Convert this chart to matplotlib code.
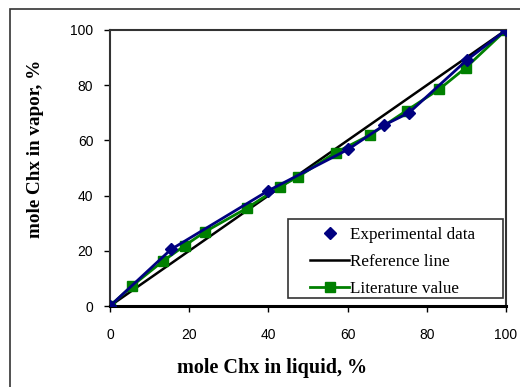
import matplotlib
matplotlib.use("Agg")
import matplotlib.pyplot as plt
from matplotlib.patches import Rectangle

# experimental data (blue diamonds)
exp_x = [0, 15.4, 40.0, 60.2, 69.3, 75.5, 90.1, 100]
exp_y = [0, 20.5, 41.8, 56.8, 65.6, 70.0, 89.1, 100]

# literature value (green squares)
lit_x = [0, 5.5, 13.5, 18.9, 24.0, 34.5, 42.9, 47.6, 57.0, 65.7, 74.9, 83.2, 89.9, 100]
lit_y = [0, 7.2, 16.4, 21.9, 26.9, 35.4, 43.2, 46.9, 55.6, 62.0, 70.8, 78.6, 86.4, 100]

# reference line
ref_x = [0, 100]
ref_y = [0, 100]

fig = plt.figure(figsize=(5.2, 3.87), dpi=100)
ax = fig.add_axes([110 / 520, 1 - 306 / 387, 396 / 520, 276 / 387])

serif = "Liberation Serif"
sans = "Liberation Sans"

ax.plot(ref_x, ref_y, color="black", lw=1.8, zorder=2, label="Reference line")
ax.plot(lit_x, lit_y, color="#008000", lw=2, marker="s", ms=7, zorder=3,
        label="Literature value")
ax.plot(exp_x, exp_y, color="#000080", lw=2, zorder=4)
ax.plot(exp_x, exp_y, ls="none", color="#000080", marker="D", ms=6, zorder=5,
        label="Experimental data")

ax.set_xlim(0, 100)
ax.set_ylim(0, 100)
ax.set_xticks(range(0, 101, 20))
ax.set_yticks(range(0, 101, 20))
ax.tick_params(direction="out", length=4, width=1, labelsize=10)
ax.tick_params(axis="x", pad=12)
ax.tick_params(axis="y", pad=8)
for t in ax.get_xticklabels() + ax.get_yticklabels():
    t.set_fontfamily(sans)

for s in ["left", "top", "right"]:
    ax.spines[s].set_linewidth(1.5)
    ax.spines[s].set_color("#333333")
ax.spines["bottom"].set_linewidth(2.2)

ax.set_xlabel("mole Chx in liquid, %", fontfamily=serif, fontweight="bold",
              fontsize=14.5)
ax.set_ylabel("mole Chx in vapor, %", fontfamily=serif, fontweight="bold",
              fontsize=13.8)
ax.xaxis.set_label_coords(0.409, -0.188)
ax.yaxis.set_label_coords(-0.167, 0.569)

h, l = ax.get_legend_handles_labels()
order = [2, 0, 1]
leg = ax.legend([h[i] for i in order], [l[i] for i in order],
                loc="upper left", bbox_to_anchor=(0.505, 0.288),
                prop={"family": serif, "size": 12.3},
                frameon=False, handlelength=2.3, handletextpad=0.05,
                borderpad=0.0, labelspacing=0.65, borderaxespad=0.0)
# legend box
ax.add_patch(Rectangle((0.449, 0.029), 0.543, 0.286, transform=ax.transAxes,
                       fill=False, edgecolor="#333333", lw=1.2, zorder=6))

# outer chart border (only top and left edges fall inside the image)
fig.patches.append(Rectangle((10 / 520, -0.1), 1.2, (387 - 9) / 387 + 0.1,
                             transform=fig.transFigure, fill=False,
                             edgecolor="#333333", lw=1.2))

fig.savefig("out.png", dpi=100)
